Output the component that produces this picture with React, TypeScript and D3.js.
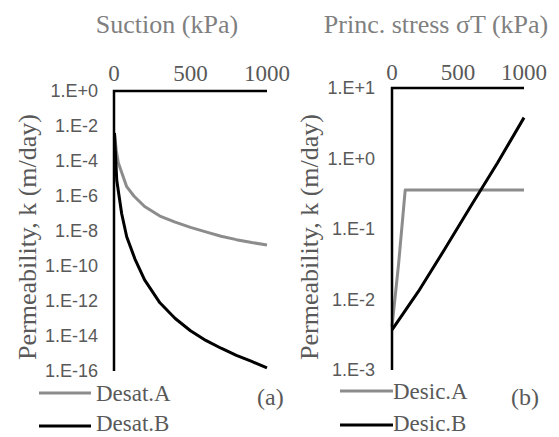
import React from "react";
import * as d3 from "d3";

// ---- Data ----
const suctionA = [3, 15, 28, 83, 130, 200, 300, 400, 500, 600, 700, 800, 900, 1000];
const desatA = [4.0e-3, 4.0e-4, 7.9e-5, 3.4e-6, 1.0e-6, 2.5e-7, 7.1e-8, 3.2e-8, 1.6e-8, 8.9e-9, 5.0e-9, 3.2e-9, 2.2e-9, 1.6e-9];
const suctionB = [3, 18, 50, 83, 137, 200, 300, 400, 500, 600, 700, 800, 900, 1000];
const desatB = [4.0e-3, 7.9e-6, 1.0e-7, 4.7e-9, 2.5e-10, 1.6e-11, 7.9e-13, 1.0e-13, 2.0e-14, 5.6e-15, 2.0e-15, 7.9e-16, 3.5e-16, 1.5e-16];

const stressA = [0, 50, 100, 1000];
const desicA = [4.1e-3, 3.2e-2, 0.357, 0.357];
const stressB = [0, 200, 400, 600, 800, 1000];
const desicB = [3.7e-3, 1.3e-2, 5.2e-2, 0.215, 0.87, 3.8];

const xTicks = [0, 500, 1000];
const leftYTicks = [1e0, 1e-2, 1e-4, 1e-6, 1e-8, 1e-10, 1e-12, 1e-14, 1e-16];
const leftYLabels = ["1.E+0", "1.E-2", "1.E-4", "1.E-6", "1.E-8", "1.E-10", "1.E-12", "1.E-14", "1.E-16"];
const rightYTicks = [1e1, 1e0, 1e-1, 1e-2, 1e-3];
const rightYLabels = ["1.E+1", "1.E+0", "1.E-1", "1.E-2", "1.E-3"];

const GRAY_LINE = "#8c8c8c";
const TEXT = "#595959";
const TITLE = "#7f7f7f";
const SERIF = "'Liberation Serif', 'Times New Roman', serif";
const NARROW = "'Liberation Sans Narrow', 'Arial Narrow', 'Liberation Sans', sans-serif";

type PanelProps = {
  x0: number; x1: number; y0: number; y1: number;
  yDomain: [number, number];
  yTicks: number[]; yLabels: string[];
  title: string; titleX: number;
  series: { xs: number[]; ys: number[]; color: string }[];
  yTitleX: number;
  tickBaseline: number;
  labelRight: number;
};

function Panel(p: PanelProps) {
  const x = d3.scaleLinear().domain([0, 1000]).range([p.x0, p.x1]);
  const y = d3.scaleLog().domain(p.yDomain).range([p.y0, p.y1]);
  const line = d3
    .line<[number, number]>()
    .x((d) => x(d[0]))
    .y((d) => y(d[1]));
  return (
    <g>
      <text x={p.titleX} y={33} fontFamily={SERIF} fontSize={26} fill={TITLE} textAnchor="middle">
        {p.title}
      </text>
      {xTicks.map((t) => (
        <text key={t} x={x(t)} y={p.tickBaseline} fontFamily={SERIF} fontSize={23} fill={TEXT} textAnchor="middle">
          {t}
        </text>
      ))}
      {p.yTicks.map((t, i) => (
        <text key={i} x={p.labelRight} y={y(t) + 6} fontFamily={NARROW} fontSize={18} fill={TEXT} textAnchor="end">
          {p.yLabels[i]}
        </text>
      ))}
      <text
        transform={`translate(${p.yTitleX},237) rotate(-90)`}
        fontFamily={SERIF}
        fontSize={26}
        fill={TEXT}
        textAnchor="middle"
      >
        Permeability, k (m/day)
      </text>
      {p.series.map((s, i) => (
        <path
          key={i}
          d={line(s.xs.map((v, j) => [v, s.ys[j]] as [number, number])) || ""}
          fill="none"
          stroke={s.color}
          strokeWidth={3}
          strokeLinejoin="round"
        />
      ))}
      <path
        d={`M${x(1000)},${p.y0}H${x(0)}V${p.y1}`}
        fill="none"
        stroke="#000"
        strokeWidth={2.5}
      />
    </g>
  );
}

export default function App() {
  return (
    <svg width={559} height={437} style={{ position: "absolute", left: 0, top: 0, background: "#fff" }}>
      <rect width={559} height={437} fill="#fff" />
      <Panel
        x0={114} x1={267} y0={91} y1={371}
        yDomain={[1e0, 1e-16]}
        yTicks={leftYTicks} yLabels={leftYLabels}
        title="Suction (kPa)" titleX={167}
        series={[
          { xs: suctionA, ys: desatA, color: GRAY_LINE },
          { xs: suctionB, ys: desatB, color: "#000" },
        ]}
        yTitleX={36}
        tickBaseline={81}
        labelRight={98}
      />
      <Panel
        x0={392} x1={524} y0={88} y1={370}
        yDomain={[1e1, 1e-3]}
        yTicks={rightYTicks} yLabels={rightYLabels}
        title="Princ. stress σT (kPa)" titleX={436}
        series={[
          { xs: stressA, ys: desicA, color: GRAY_LINE },
          { xs: stressB, ys: desicB, color: "#000" },
        ]}
        yTitleX={318}
        tickBaseline={80}
        labelRight={375}
      />
      {/* Legends */}
      <line x1={39} x2={91} y1={393} y2={393} stroke={GRAY_LINE} strokeWidth={3} />
      <text x={96} y={401} fontFamily={SERIF} fontSize={23} fill={TEXT}>Desat.A</text>
      <line x1={39} x2={91} y1={426} y2={426} stroke="#000" strokeWidth={3} />
      <text x={96} y={431} fontFamily={SERIF} fontSize={23} fill={TEXT}>Desat.B</text>
      <line x1={340} x2={393} y1={391} y2={391} stroke={GRAY_LINE} strokeWidth={3} />
      <text x={393} y={399} fontFamily={SERIF} fontSize={23} fill={TEXT}>Desic.A</text>
      <line x1={340} x2={393} y1={425} y2={425} stroke="#000" strokeWidth={3} />
      <text x={393} y={431} fontFamily={SERIF} fontSize={23} fill={TEXT}>Desic.B</text>
      <text x={257} y={405} fontFamily={SERIF} fontSize={24} fill={TEXT}>(a)</text>
      <text x={511} y={405} fontFamily={SERIF} fontSize={24} fill={TEXT}>(b)</text>
    </svg>
  );
}
